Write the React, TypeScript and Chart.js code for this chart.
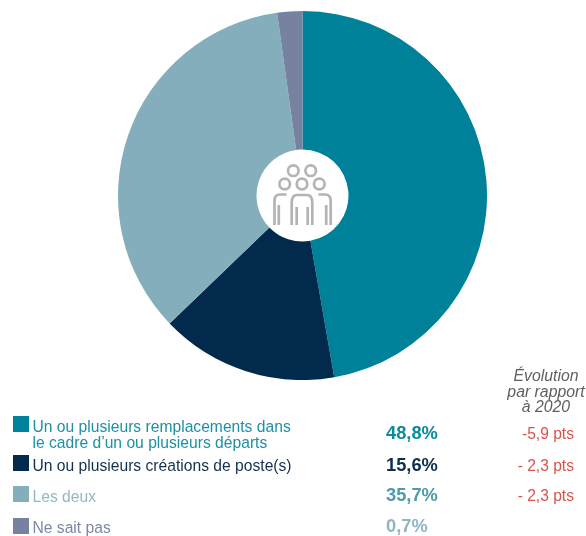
import React, { useEffect, useRef } from "react";
import { Chart, registerables } from "chart.js";

Chart.register(...registerables);

const categories = [
  "Un ou plusieurs remplacements dans le cadre d’un ou plusieurs départs",
  "Un ou plusieurs créations de poste(s)",
  "Les deux",
  "Ne sait pas",
];
// Slice sizes as drawn in the picture (they differ slightly from the printed labels)
const sliceValues = [47.25, 15.55, 35.0, 2.2];
const printedShares = ["48,8%", "15,6%", "35,7%", "0,7%"];
const evolutions = ["-5,9 pts", "- 2,3 pts", "- 2,3 pts"];
const sliceColors = ["#00819A", "#012A4D", "#85AEBC", "#76829F"];
const labelColors = ["#1F8FA4", "#14304F", "#93B8C5", "#7C88A3"];
const shareColors = ["#0C8A9F", "#0E2F50", "#4F9AAB", "#8FB5C2"];

const FONT = '"Liberation Sans", Arial, sans-serif';

export default function App() {
  const ref = useRef<HTMLCanvasElement>(null);
  useEffect(() => {
    document.body.style.margin = "0";
    const chart = new Chart(ref.current!, {
      type: "doughnut",
      data: {
        labels: categories,
        datasets: [{ data: sliceValues, backgroundColor: sliceColors, borderWidth: 0 }],
      },
      options: {
        animation: false,
        responsive: false,
        cutout: 46,
        layout: { padding: 0 },
        plugins: { legend: { display: false }, tooltip: { enabled: false } },
      },
    });
    return () => chart.destroy();
  }, []);

  const squares = [416, 455, 486, 518];
  return (
    <div style={{ position: "relative", width: 586, height: 536, background: "#fff", overflow: "hidden" }}>
      <canvas
        ref={ref}
        width={369}
        height={369}
        style={{ position: "absolute", left: 118, top: 11, width: 369, height: 369 }}
      />
      <svg
        width={586}
        height={536}
        viewBox="0 0 586 536"
        style={{ position: "absolute", left: 0, top: 0 }}
        fontFamily={FONT}
      >
        <g fill="none" stroke="#B4B4B4" strokeWidth={2.7}>
          <circle cx={293.3} cy={170.7} r={5.3} />
          <circle cx={310.7} cy={170.7} r={5.3} />
          <circle cx={284.7} cy={184} r={5.3} />
          <circle cx={302} cy={184} r={5.3} />
          <circle cx={319.3} cy={184} r={5.3} />
          <path d="M291.7 225V203Q291.7 195 297 195H307Q312.3 195 312.3 203V225" />
          <path d="M296.7 207V225M307.7 207V225" />
          <path d="M274.5 225V201Q274.5 194.5 280 194.5H286.5M278.8 205V225" />
          <path d="M330.7 225V201Q330.7 194.5 325 194.5H318.5M326.2 205V225" />
        </g>

        {squares.map((y, i) => (
          <rect key={i} x={13} y={y} width={16} height={16} fill={sliceColors[i]} />
        ))}

        <g fontSize={15.65}>
          <text x={32.5} y={432} fill={labelColors[0]}>Un ou plusieurs remplacements dans</text>
          <text x={32.5} y={448} fill={labelColors[0]}>le cadre d’un ou plusieurs départs</text>
          <text x={32.5} y={471} fill={labelColors[1]}>{categories[1]}</text>
          <text x={32.5} y={502} fill={labelColors[2]}>{categories[2]}</text>
          <text x={32.5} y={533} fill={labelColors[3]}>{categories[3]}</text>
        </g>

        <g fontSize={18.3} fontWeight="bold">
          <text x={386} y={439} fill={shareColors[0]}>{printedShares[0]}</text>
          <text x={386} y={471} fill={shareColors[1]}>{printedShares[1]}</text>
          <text x={386} y={501} fill={shareColors[2]}>{printedShares[2]}</text>
          <text x={386} y={532} fill={shareColors[3]}>{printedShares[3]}</text>
        </g>

        <g fontSize={15.6} fill="#D9534C" textAnchor="end">
          <text x={574} y={439}>{evolutions[0]}</text>
          <text x={574} y={471}>{evolutions[1]}</text>
          <text x={574} y={501}>{evolutions[2]}</text>
        </g>

        <g fontSize={15.8} fontStyle="italic" fill="#5F5F5F" textAnchor="middle">
          <text x={546} y={381}>Évolution</text>
          <text x={546} y={397}>par rapport</text>
          <text x={546} y={412}>à 2020</text>
        </g>
      </svg>
    </div>
  );
}
